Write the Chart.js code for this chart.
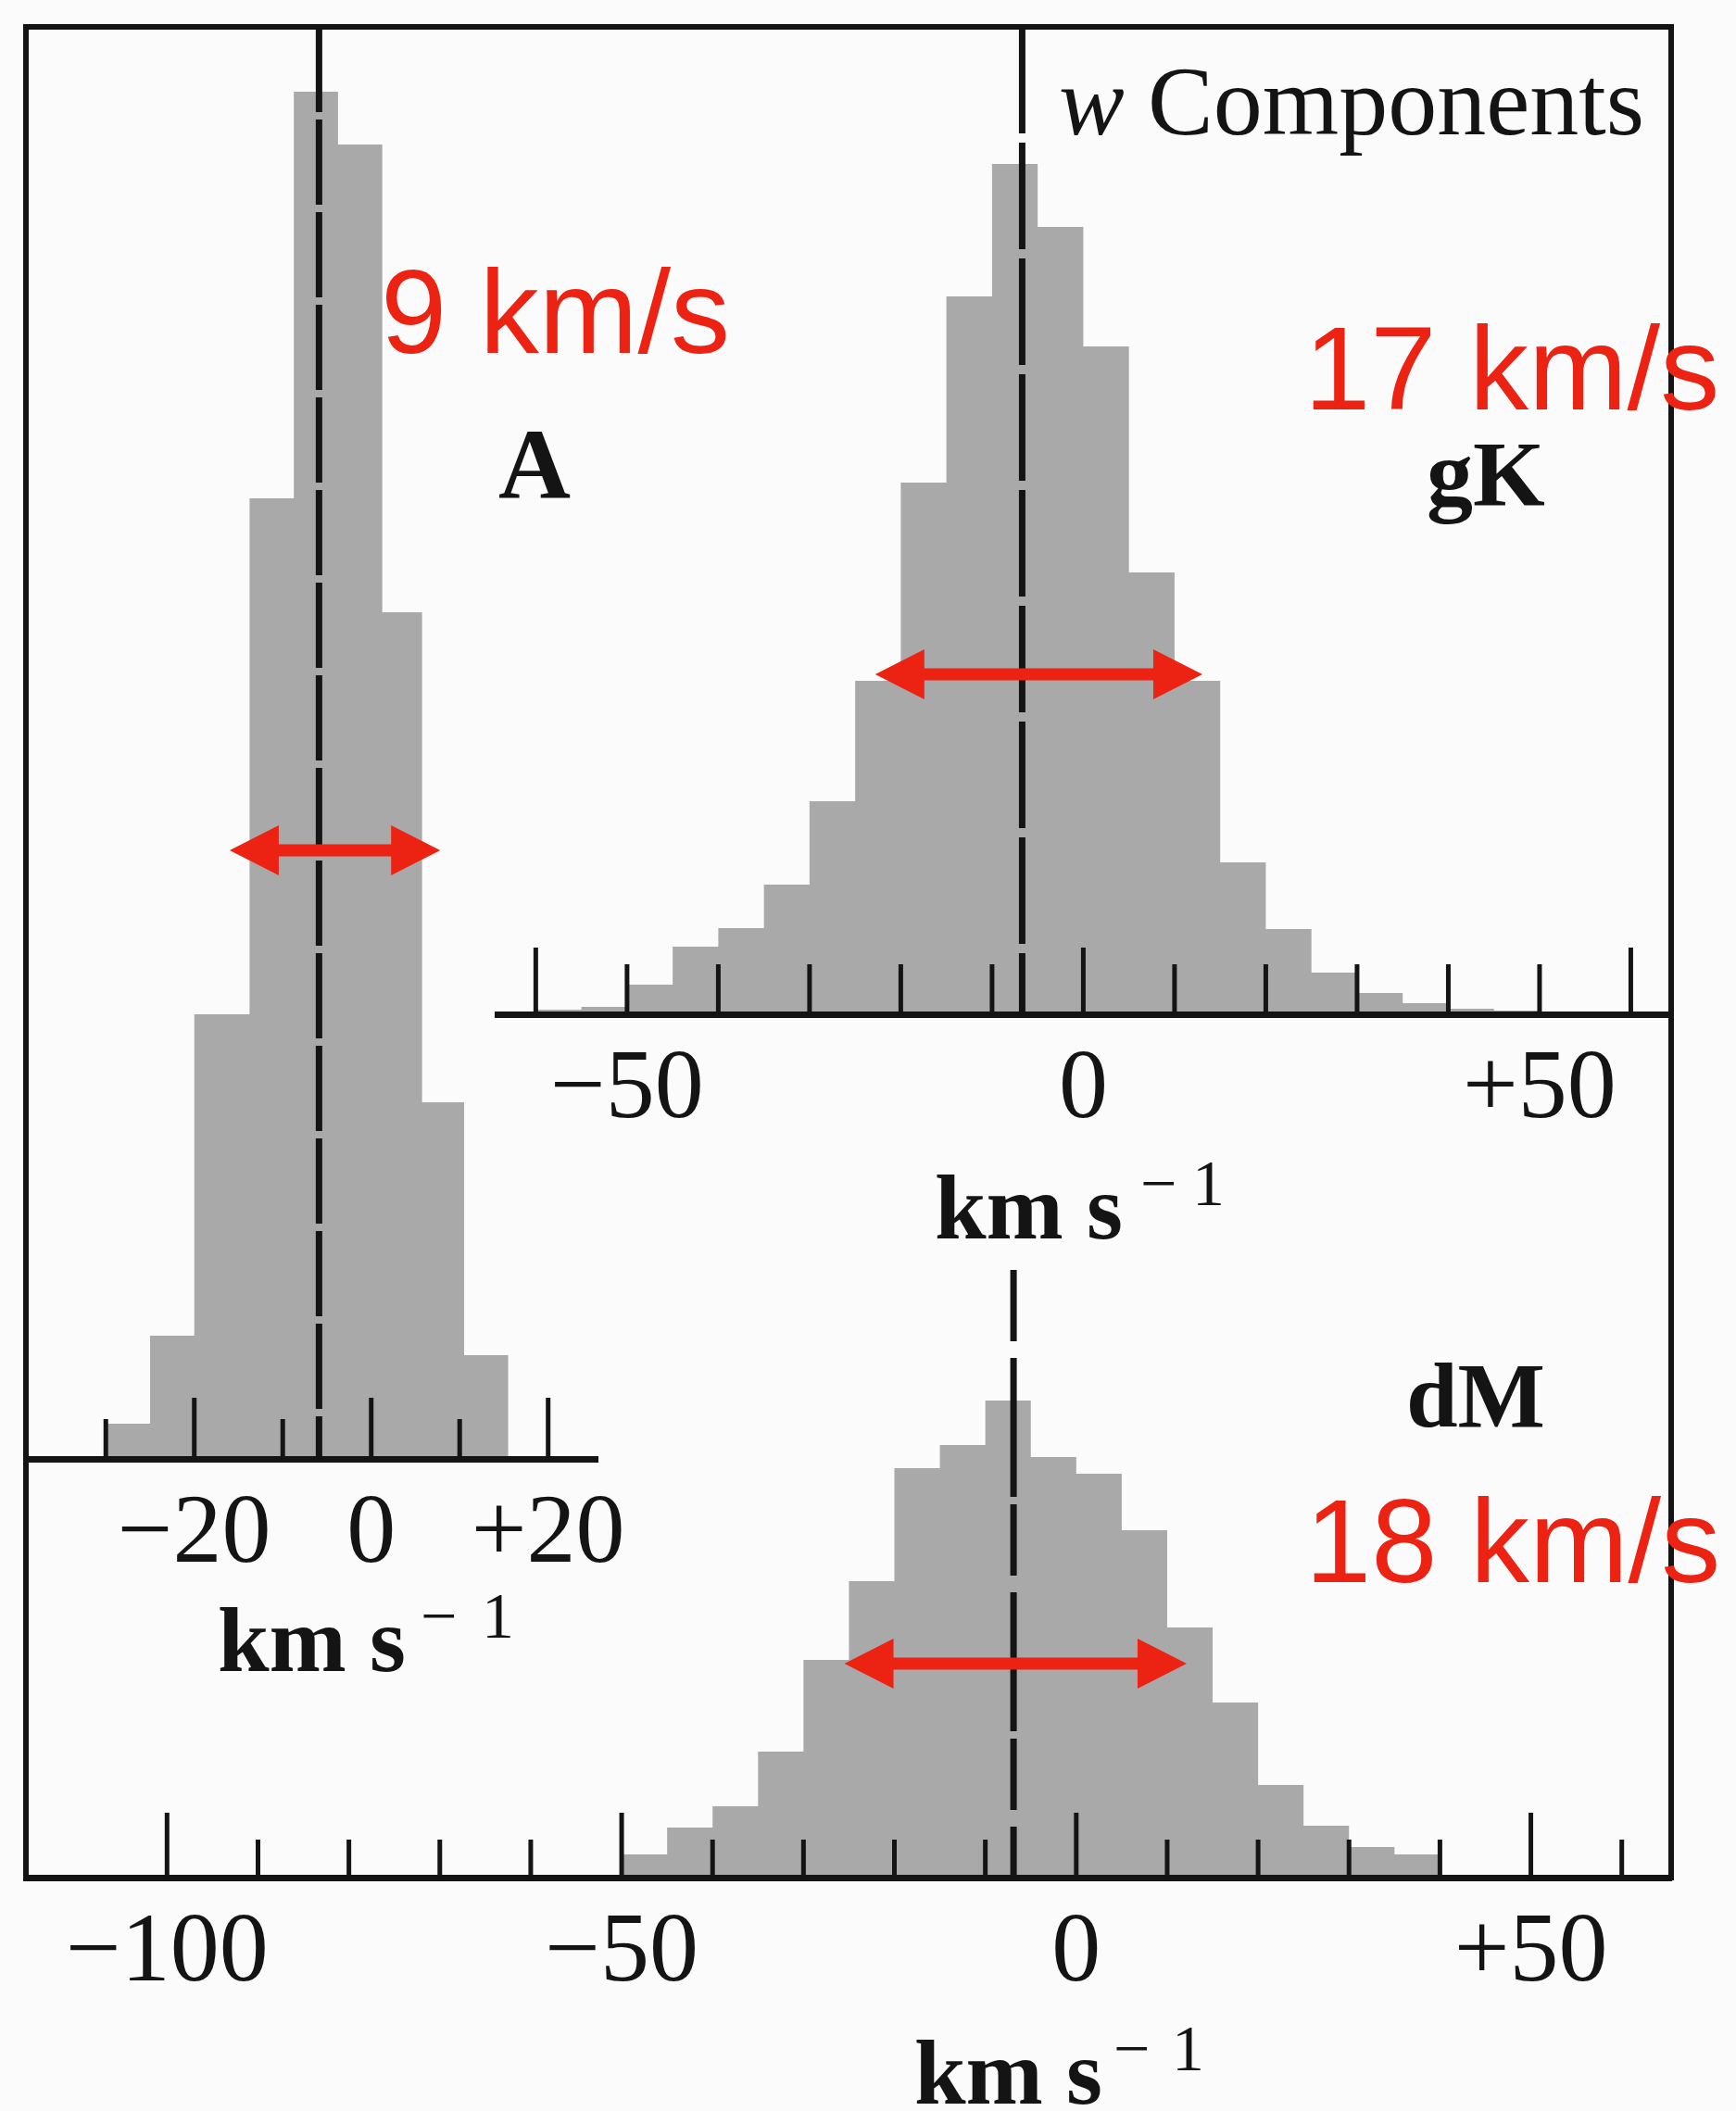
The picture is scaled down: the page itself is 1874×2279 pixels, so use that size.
<!DOCTYPE html>
<html>
<head>
<meta charset="utf-8">
<script src="https://cdn.jsdelivr.net/npm/chart.js@4.4.1/dist/chart.umd.min.js"></script>
<style>
html, body { margin: 0; padding: 0; background: #fbfbfb; }
#wrap { position: relative; width: 1874px; height: 2279px; overflow: hidden; }
#wrap canvas { position: absolute; left: 0; top: 0; }
</style>
</head>
<body>
<div id="wrap">
  <canvas id="cDM" width="1874" height="2279"></canvas>
  <canvas id="cGK" width="1874" height="2279"></canvas>
  <canvas id="cA" width="1874" height="2279"></canvas>
</div>
<script>
// ================= DATA =================
// Panel A (A stars): bin edges (km/s) and relative counts per bin
const edgesA = [-30, -25, -20, -13.75, -8.75, -3.75, 1.25, 5.75, 10.5, 15.5];
const countsA = [3.8, 13.3, 48.0, 103.7, 147.6, 141.9, 91.4, 38.5, 11.2];
const meanA = -5.9;
const spanA = [-16.0, 7.8];       // red double arrow (km/s)
const spanLevelA = 65.7;          // height of arrow (count units)
const ticksA = [-30, -20, -10, 0, 10, 20];
const majorTicksA = [-20, 0, 20];
const labelValuesA = [-20, 0, 20];
const labelTextsA = ['\u221220', '0', '+20'];

// Panel gK
const edgesGK = [-60, -55, -50, -45, -40, -35, -30, -25, -20, -15, -10, -5, 0, 5, 10, 15, 20, 25, 30, 35, 40, 45, 50];
const countsGK = [0.5, 0.8, 3.2, 7.3, 9.3, 14.0, 23.0, 36.0, 57.4, 77.5, 91.8, 85.0, 72.1, 47.7, 36.0, 16.4, 9.2, 4.5, 2.3, 1.2, 0.6, 0.4];
const meanGK = -6.7;
const spanGK = [-22.8, 13.05];
const spanLevelGK = 36.7;
const ticksGK = [-60, -50, -40, -30, -20, -10, 0, 10, 20, 30, 40, 50, 60];
const majorTicksGK = [-60, 0, 60];
const labelValuesGK = [-50, 0, 50];
const labelTextsGK = ['\u221250', '0', '+50'];

// Panel dM
const edgesDM = [-50, -45, -40, -35, -30, -25, -20, -15, -10, -5, 0, 5, 10, 15, 20, 25, 30, 35, 40];
const countsDM = [2.5, 5.4, 7.7, 13.6, 23.5, 32.0, 44.2, 46.7, 51.5, 45.4, 43.6, 37.5, 27.0, 18.9, 10.0, 5.6, 3.3, 2.5];
const meanDM = -6.9;
const spanDM = [-25.5, 12.14];
const spanLevelDM = 23.1;
const ticksDM = [-100, -90, -80, -70, -60, -50, -40, -30, -20, -10, 0, 10, 20, 30, 40, 50, 60];
const majorTicksDM = [-100, -50, 0, 50];
const labelValuesDM = [-100, -50, 0, 50];
const labelTextsDM = ['\u2212100', '\u221250', '0', '+50'];

// ================= STYLE / LAYOUT =================
const W = 1874, H = 2279, AXIS_H = 140;
const INK = '#141414', RED = '#ec2213', FILL = '#a9a9a9';
const SERIF = '"Liberation Serif", "Times New Roman", serif';
const SANS = '"Liberation Sans", Arial, Helvetica, sans-serif';

const panelA = {
  name: 'A', edges: edgesA, counts: countsA, mean: meanA, span: spanA, spanLevel: spanLevelA,
  ticks: ticksA, major: majorTicksA, labelValues: labelValuesA, labelTexts: labelTextsA,
  box: { left: 28, right: 645, top: 29, bottom: 1575 }, xMin: -39.03, xMax: 25.58, yMax: 154.6,
  meanTop: 154.6, dash: [92, 8], majorLen: 66, minorLen: 43,
  title: { x: 235, y: 1804, minusX: 454, oneX: 520 }
};
const panelGK = {
  name: 'gK', edges: edgesGK, counts: countsGK, mean: meanGK, span: spanGK, spanLevel: spanLevelGK,
  ticks: ticksGK, major: majorTicksGK, labelValues: labelValuesGK, labelTexts: labelTextsGK,
  box: { left: 537, right: 1804, top: 29, bottom: 1095 }, xMin: -64.20, xMax: 64.42, yMax: 106.6,
  meanTop: 106.6, dash: [115, 10], majorLen: 72, minorLen: 54,
  title: { x: 1009, y: 1337, minusX: 1231, oneX: 1287 }
};
const panelDM = {
  name: 'dM', edges: edgesDM, counts: countsDM, mean: meanDM, span: spanDM, spanLevel: spanLevelDM,
  ticks: ticksDM, major: majorTicksDM, labelValues: labelValuesDM, labelTexts: labelTextsDM,
  box: { left: 28, right: 1804, top: 29, bottom: 2027 }, xMin: -115.52, xMax: 65.43, yMax: 199.8,
  meanTop: 65.6, dash: [77, 18, 150, 8], majorLen: 70, minorLen: 41,
  title: { x: 987, y: 2271, minusX: 1202, oneX: 1265 }, frame: true
};

const pageTexts = [
  { text: 'w', x: 1143, y: 145, font: 'italic 106px ' + SERIF, color: INK },
  { text: 'Components', x: 1239, y: 145, font: '106px ' + SERIF, color: INK },
  { text: 'A', x: 538, y: 538, font: 'bold 108px ' + SERIF, color: INK },
  { text: 'gK', x: 1540, y: 545, font: 'bold 100px ' + SERIF, color: INK },
  { text: 'dM', x: 1518, y: 1540, font: 'bold 100px ' + SERIF, color: INK },
  { text: '9 km/s', x: 411, y: 381, font: '128px ' + SANS, color: RED },
  { text: '17 km/s', x: 1408, y: 442, font: '128px ' + SANS, color: RED },
  { text: '18 km/s', x: 1409, y: 1708, font: '128px ' + SANS, color: RED }
];

// ================= HELPERS =================
function histPoints(edges, counts) {
  const pts = counts.map((c, i) => ({ x: edges[i], y: c }));
  pts.push({ x: edges[edges.length - 1], y: 0 });
  return pts;
}

function drawArrow(ctx, x1, x2, y) {
  const hl = 53, hw = 27, sw = 6.5;
  ctx.fillStyle = RED;
  ctx.beginPath();
  ctx.moveTo(x1, y);
  ctx.lineTo(x1 + hl, y - hw);
  ctx.lineTo(x1 + hl, y - sw);
  ctx.lineTo(x2 - hl, y - sw);
  ctx.lineTo(x2 - hl, y - hw);
  ctx.lineTo(x2, y);
  ctx.lineTo(x2 - hl, y + hw);
  ctx.lineTo(x2 - hl, y + sw);
  ctx.lineTo(x1 + hl, y + sw);
  ctx.lineTo(x1 + hl, y + hw);
  ctx.closePath();
  ctx.fill();
}

function decoPlugin(p) {
  return {
    id: 'deco' + p.name,
    afterDraw(chart) {
      const ctx = chart.ctx, xs = chart.scales.x, ys = chart.scales.y;
      const base = ys.getPixelForValue(0);
      ctx.save();
      // outer frame
      if (p.frame) {
        const a = chart.chartArea;
        ctx.strokeStyle = INK; ctx.lineWidth = 6; ctx.lineJoin = 'miter';
        ctx.beginPath();
        ctx.moveTo(a.left, a.bottom + 3);
        ctx.lineTo(a.left, a.top);
        ctx.lineTo(a.right, a.top);
        ctx.lineTo(a.right, a.bottom + 3);
        ctx.stroke();
      }
      // inward tick marks
      ctx.strokeStyle = INK; ctx.lineWidth = 5; ctx.lineCap = 'butt';
      p.ticks.forEach(v => {
        const px = xs.getPixelForValue(v);
        const len = p.major.includes(v) ? p.majorLen : p.minorLen;
        ctx.beginPath(); ctx.moveTo(px, base); ctx.lineTo(px, base - len); ctx.stroke();
      });
      // axis title  km s^-1
      ctx.fillStyle = INK; ctx.textAlign = 'left'; ctx.textBaseline = 'alphabetic';
      ctx.font = 'bold 100px ' + SERIF;
      ctx.fillText('km s', p.title.x, p.title.y);
      ctx.font = '70px ' + SERIF;
      ctx.fillText('\u2212', p.title.minusX, p.title.y - 36);
      ctx.fillText('1', p.title.oneX, p.title.y - 36);
      // red dispersion arrow
      drawArrow(ctx, xs.getPixelForValue(p.span[0]), xs.getPixelForValue(p.span[1]), ys.getPixelForValue(p.spanLevel));
      // page-level texts on the top-most canvas
      if (p.name === 'A') {
        pageTexts.forEach(t => {
          ctx.font = t.font; ctx.fillStyle = t.color;
          ctx.fillText(t.text, t.x, t.y);
        });
      }
      ctx.restore();
    }
  };
}

function makePanel(canvasId, p) {
  return new Chart(document.getElementById(canvasId), {
    type: 'line',
    data: {
      datasets: [
        { data: [{ x: p.mean, y: p.meanTop }, { x: p.mean, y: 0 }],
          borderColor: INK, borderWidth: 7, borderDash: p.dash, borderCapStyle: 'butt',
          fill: false, pointRadius: 0, tension: 0 },
        { data: histPoints(p.edges, p.counts), stepped: true, fill: 'origin',
          backgroundColor: FILL, borderColor: 'rgba(0,0,0,0)', borderWidth: 0, pointRadius: 0 }
      ]
    },
    options: {
      responsive: false, animation: false, devicePixelRatio: 1, events: [],
      layout: { autoPadding: false,
        padding: { left: p.box.left, right: W - p.box.right, top: p.box.top, bottom: H - p.box.bottom - AXIS_H } },
      plugins: { legend: { display: false }, tooltip: { enabled: false } },
      scales: {
        x: {
          type: 'linear', min: p.xMin, max: p.xMax,
          afterBuildTicks: ax => { ax.ticks = p.labelValues.map(v => ({ value: v })); },
          afterFit: s => { s.height = AXIS_H; },
          ticks: { autoSkip: false, maxRotation: 0, minRotation: 0, padding: 30, color: INK,
            font: { family: SERIF, size: 106, lineHeight: 1 },
            callback: v => { const i = p.labelValues.indexOf(v); return i >= 0 ? p.labelTexts[i] : ''; } },
          grid: { drawOnChartArea: false, drawTicks: false, color: 'rgba(0,0,0,0)' },
          border: { display: true, color: INK, width: 7, z: 1 }
        },
        y: { display: false, min: 0, max: p.yMax }
      }
    },
    plugins: [decoPlugin(p)]
  });
}

makePanel('cDM', panelDM);
makePanel('cGK', panelGK);
makePanel('cA', panelA);
</script>
</body>
</html>
